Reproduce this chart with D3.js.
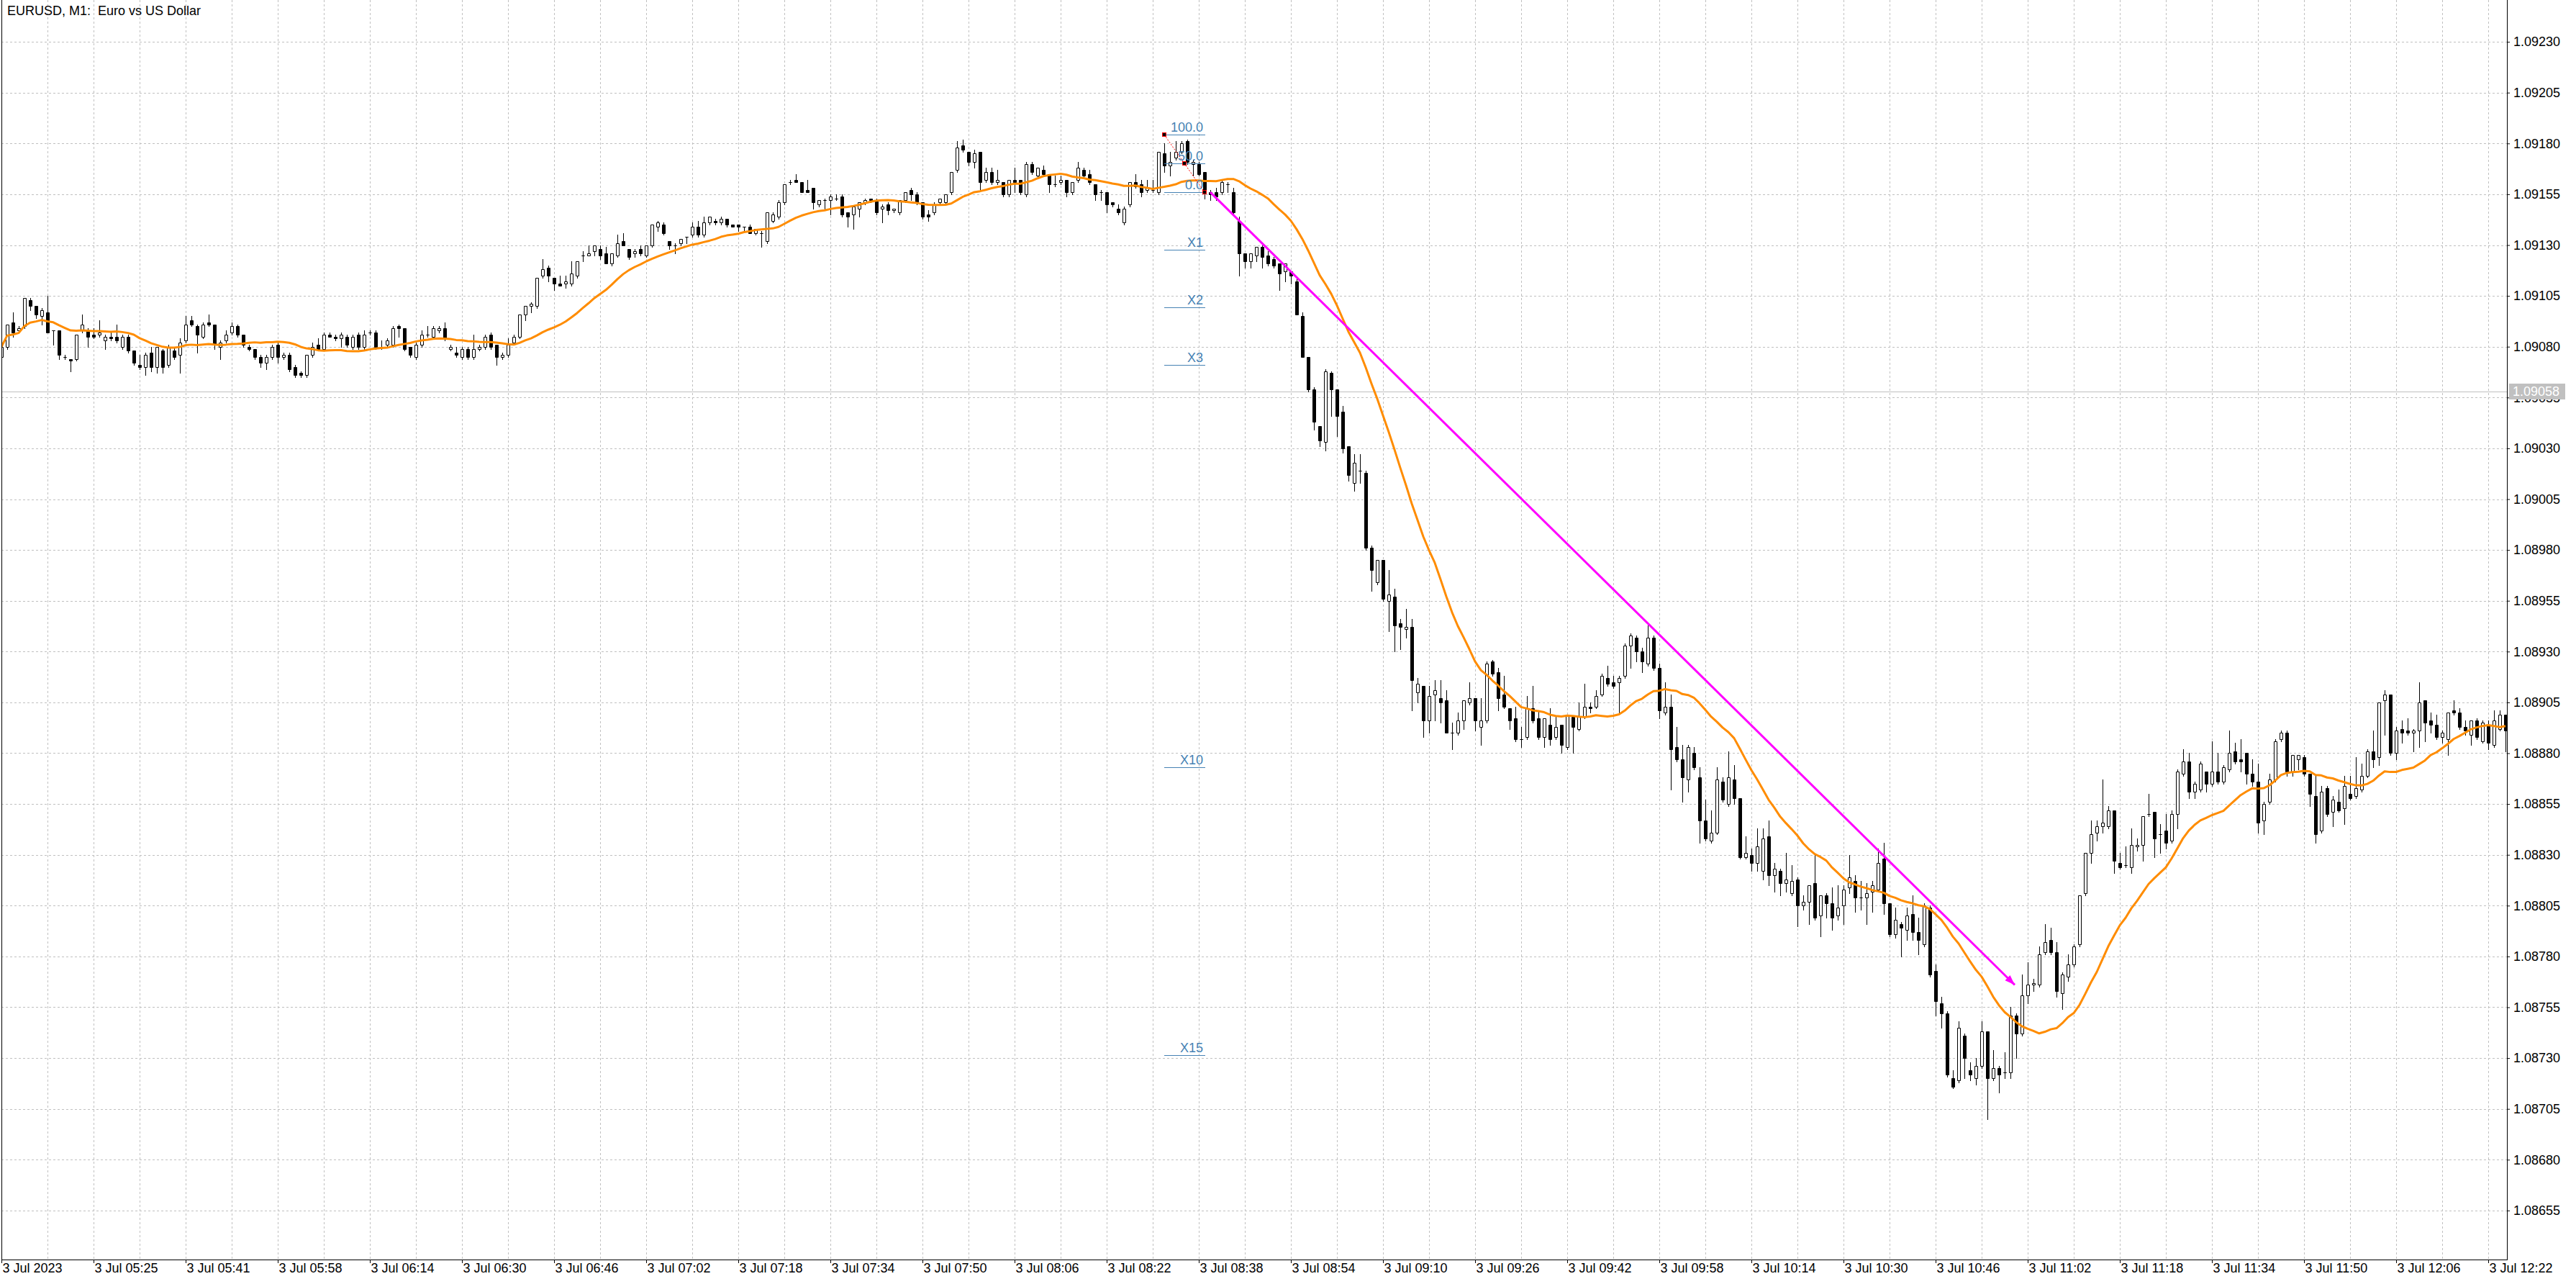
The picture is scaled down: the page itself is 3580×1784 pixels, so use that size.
<!DOCTYPE html>
<html><head><meta charset="utf-8">
<script src="https://cdn.jsdelivr.net/npm/d3@7"></script>
<style>html,body{margin:0;padding:0;background:#fff;overflow:hidden}</style>
</head><body>
<svg id="chart" width="3580" height="1784"></svg>
<script>
const chartTitle = "EURUSD, M1:  Euro vs US Dollar";
const timeLabels = ["3 Jul 2023","3 Jul 05:25","3 Jul 05:41","3 Jul 05:58","3 Jul 06:14","3 Jul 06:30","3 Jul 06:46","3 Jul 07:02","3 Jul 07:18","3 Jul 07:34","3 Jul 07:50","3 Jul 08:06","3 Jul 08:22","3 Jul 08:38","3 Jul 08:54","3 Jul 09:10","3 Jul 09:26","3 Jul 09:42","3 Jul 09:58","3 Jul 10:14","3 Jul 10:30","3 Jul 10:46","3 Jul 11:02","3 Jul 11:18","3 Jul 11:34","3 Jul 11:50","3 Jul 12:06","3 Jul 12:22"];
const priceTicks = [1.09230,1.09205,1.09180,1.09155,1.09130,1.09105,1.09080,1.09055,1.09030,1.09005,1.08980,1.08955,1.08930,1.08905,1.08880,1.08855,1.08830,1.08805,1.08780,1.08755,1.08730,1.08705,1.08680,1.08655];

const opens = [
1.09075,1.09080,1.09092,1.09088,1.09090,1.09103,1.09100,1.09095,1.09097,1.09088,
1.09088,1.09075,1.09074,1.09074,1.09088,1.09088,1.09086,1.09086,1.09083,1.09085,
1.09085,1.09080,1.09085,1.09078,1.09071,1.09070,1.09077,1.09070,1.09078,1.09071,
1.09078,1.09076,1.09083,1.09093,1.09090,1.09085,1.09092,1.09091,1.09080,1.09083,
1.09087,1.09090,1.09086,1.09080,1.09079,1.09075,1.09072,1.09075,1.09081,1.09075,
1.09076,1.09070,1.09067,1.09066,1.09076,1.09081,1.09079,1.09086,1.09085,1.09084,
1.09085,1.09080,1.09086,1.09080,1.09087,1.09087,1.09080,1.09081,1.09081,1.09090,
1.09089,1.09080,1.09075,1.09081,1.09086,1.09085,1.09088,1.09089,1.09079,1.09077,
1.09075,1.09079,1.09075,1.09079,1.09080,1.09086,1.09081,1.09075,1.09076,1.09082,
1.09085,1.09096,1.09100,1.09100,1.09115,1.09119,1.09114,1.09111,1.09111,1.09111,
1.09115,1.09125,1.09125,1.09127,1.09128,1.09126,1.09121,1.09125,1.09132,1.09128,
1.09126,1.09128,1.09125,1.09130,1.09139,1.09140,1.09132,1.09130,1.09131,1.09134,
1.09135,1.09139,1.09135,1.09141,1.09142,1.09141,1.09143,1.09140,1.09140,1.09139,
1.09139,1.09136,1.09136,1.09132,1.09142,1.09144,1.09151,1.09161,1.09162,1.09161,
1.09157,1.09158,1.09150,1.09152,1.09152,1.09153,1.09154,1.09146,1.09145,1.09148,
1.09151,1.09153,1.09152,1.09148,1.09150,1.09147,1.09146,1.09152,1.09157,1.09155,
1.09151,1.09145,1.09146,1.09151,1.09151,1.09156,1.09167,1.09179,1.09176,1.09171,
1.09176,1.09162,1.09166,1.09161,1.09161,1.09155,1.09162,1.09162,1.09155,1.09170,
1.09164,1.09167,1.09165,1.09160,1.09161,1.09162,1.09156,1.09162,1.09167,1.09165,
1.09160,1.09156,1.09156,1.09151,1.09148,1.09141,1.09150,1.09161,1.09160,1.09157,
1.09157,1.09156,1.09175,1.09169,1.09173,1.09176,1.09181,1.09170,1.09170,1.09166,
1.09156,1.09156,1.09156,1.09160,1.09156,1.09142,1.09126,1.09122,1.09125,1.09129,
1.09125,1.09123,1.09121,1.09117,1.09117,1.09112,1.09095,1.09075,1.09059,1.09041,
1.09033,1.09067,1.09059,1.09048,1.09031,1.09013,1.09019,1.09018,1.08981,1.08964,
1.08975,1.08955,1.08957,1.08944,1.08941,1.08942,1.08910,1.08913,1.08896,1.08909,
1.08907,1.08906,1.08890,1.08890,1.08896,1.08905,1.08907,1.08893,1.08896,1.08925,
1.08920,1.08909,1.08902,1.08897,1.08887,1.08888,1.08902,1.08897,1.08888,1.08894,
1.08888,1.08894,1.08883,1.08898,1.08892,1.08898,1.08903,1.08903,1.08909,1.08917,
1.08915,1.08915,1.08918,1.08933,1.08937,1.08930,1.08924,1.08937,1.08922,1.08900,
1.08903,1.08883,1.08877,1.08867,1.08880,1.08868,1.08847,1.08837,1.08841,1.08866,
1.08855,1.08867,1.08858,1.08829,1.08830,1.08826,1.08822,1.08839,1.08820,1.08822,
1.08816,1.08811,1.08818,1.08805,1.08807,1.08816,1.08800,1.08810,1.08806,1.08800,
1.08805,1.08814,1.08817,1.08809,1.08809,1.08812,1.08813,1.08828,1.08806,1.08791,
1.08796,1.08793,1.08801,1.08792,1.08786,1.08804,1.08773,1.08757,1.08752,1.08720,
1.08719,1.08741,1.08724,1.08720,1.08726,1.08743,1.08720,1.08725,1.08723,1.08723,
1.08751,1.08742,1.08761,1.08766,1.08766,1.08782,1.08788,1.08782,1.08762,1.08770,
1.08776,1.08786,1.08811,1.08831,1.08841,1.08844,1.08844,1.08852,1.08826,1.08825,
1.08824,1.08834,1.08835,1.08850,1.08851,1.08840,1.08842,1.08837,1.08850,1.08870,
1.08876,1.08861,1.08862,1.08871,1.08865,1.08871,1.08866,1.08872,1.08881,1.08877,
1.08880,1.08870,1.08866,1.08847,1.08856,1.08867,1.08887,1.08890,1.08871,1.08877,
1.08878,1.08870,1.08859,1.08842,1.08863,1.08851,1.08856,1.08853,1.08860,1.08859,
1.08862,1.08869,1.08881,1.08878,1.08906,1.08909,1.08880,1.08892,1.08891,1.08890,
1.08891,1.08906,1.08896,1.08894,1.08888,1.08887,1.08901,1.08900,1.08893,1.08889,
1.08896,1.08886,1.08894,1.08884,1.08892,1.08899];

const highs = [
1.09080,1.09091,1.09097,1.09090,1.09104,1.09104,1.09100,1.09099,1.09105,1.09088,
1.09088,1.09076,1.09074,1.09086,1.09096,1.09089,1.09089,1.09093,1.09086,1.09087,
1.09091,1.09086,1.09086,1.09078,1.09076,1.09077,1.09080,1.09080,1.09079,1.09081,
1.09080,1.09084,1.09095,1.09095,1.09091,1.09092,1.09096,1.09091,1.09083,1.09088,
1.09092,1.09091,1.09086,1.09081,1.09079,1.09076,1.09076,1.09081,1.09082,1.09077,
1.09077,1.09071,1.09068,1.09076,1.09082,1.09084,1.09087,1.09087,1.09086,1.09087,
1.09086,1.09086,1.09087,1.09088,1.09088,1.09088,1.09083,1.09084,1.09090,1.09091,
1.09089,1.09080,1.09082,1.09088,1.09090,1.09090,1.09090,1.09092,1.09081,1.09080,
1.09080,1.09080,1.09086,1.09081,1.09086,1.09087,1.09081,1.09077,1.09084,1.09086,
1.09096,1.09100,1.09102,1.09114,1.09123,1.09120,1.09114,1.09115,1.09115,1.09122,
1.09122,1.09127,1.09130,1.09130,1.09130,1.09129,1.09126,1.09135,1.09136,1.09128,
1.09128,1.09130,1.09130,1.09140,1.09142,1.09141,1.09132,1.09131,1.09133,1.09134,
1.09141,1.09142,1.09144,1.09144,1.09143,1.09144,1.09143,1.09140,1.09140,1.09139,
1.09140,1.09138,1.09137,1.09146,1.09146,1.09152,1.09160,1.09162,1.09165,1.09161,
1.09162,1.09158,1.09152,1.09153,1.09155,1.09155,1.09155,1.09146,1.09149,1.09151,
1.09153,1.09153,1.09153,1.09150,1.09151,1.09148,1.09152,1.09156,1.09158,1.09156,
1.09151,1.09147,1.09151,1.09153,1.09155,1.09166,1.09181,1.09182,1.09176,1.09177,
1.09176,1.09168,1.09168,1.09167,1.09161,1.09162,1.09168,1.09162,1.09171,1.09171,
1.09168,1.09169,1.09165,1.09164,1.09164,1.09162,1.09161,1.09171,1.09168,1.09167,
1.09160,1.09157,1.09156,1.09151,1.09150,1.09149,1.09161,1.09165,1.09162,1.09162,
1.09162,1.09176,1.09180,1.09176,1.09181,1.09181,1.09182,1.09172,1.09171,1.09166,
1.09157,1.09158,1.09162,1.09161,1.09158,1.09144,1.09126,1.09126,1.09129,1.09130,
1.09127,1.09124,1.09121,1.09121,1.09117,1.09114,1.09097,1.09075,1.09060,1.09041,
1.09069,1.09068,1.09059,1.09051,1.09031,1.09027,1.09027,1.09019,1.08982,1.08975,
1.08975,1.08970,1.08961,1.08946,1.08951,1.08946,1.08917,1.08913,1.08913,1.08916,
1.08916,1.08911,1.08895,1.08900,1.08906,1.08915,1.08907,1.08907,1.08925,1.08926,
1.08922,1.08918,1.08902,1.08903,1.08893,1.08908,1.08913,1.08901,1.08897,1.08902,
1.08898,1.08894,1.08899,1.08898,1.08905,1.08914,1.08905,1.08911,1.08919,1.08923,
1.08918,1.08918,1.08934,1.08939,1.08938,1.08932,1.08943,1.08938,1.08924,1.08915,
1.08909,1.08893,1.08884,1.08884,1.08883,1.08873,1.08857,1.08852,1.08873,1.08868,
1.08881,1.08874,1.08858,1.08839,1.08833,1.08843,1.08843,1.08847,1.08826,1.08823,
1.08831,1.08825,1.08819,1.08810,1.08815,1.08830,1.08810,1.08811,1.08814,1.08815,
1.08815,1.08830,1.08820,1.08817,1.08816,1.08817,1.08833,1.08836,1.08806,1.08804,
1.08797,1.08804,1.08810,1.08799,1.08806,1.08805,1.08776,1.08760,1.08753,1.08724,
1.08748,1.08742,1.08728,1.08730,1.08748,1.08743,1.08734,1.08726,1.08733,1.08755,
1.08752,1.08771,1.08777,1.08769,1.08785,1.08796,1.08794,1.08787,1.08772,1.08781,
1.08786,1.08810,1.08831,1.08847,1.08847,1.08867,1.08854,1.08852,1.08831,1.08834,
1.08843,1.08838,1.08849,1.08860,1.08851,1.08845,1.08850,1.08852,1.08872,1.08882,
1.08880,1.08866,1.08876,1.08871,1.08886,1.08880,1.08874,1.08891,1.08885,1.08887,
1.08880,1.08877,1.08875,1.08856,1.08870,1.08887,1.08891,1.08891,1.08879,1.08879,
1.08879,1.08870,1.08869,1.08864,1.08864,1.08859,1.08862,1.08869,1.08869,1.08878,
1.08875,1.08882,1.08891,1.08905,1.08911,1.08909,1.08893,1.08896,1.08897,1.08892,
1.08915,1.08906,1.08900,1.08899,1.08891,1.08900,1.08906,1.08902,1.08896,1.08896,
1.08897,1.08896,1.08896,1.08901,1.08901,1.08899];

const lows = [
1.09074,1.09079,1.09085,1.09088,1.09089,1.09098,1.09094,1.09091,1.09087,1.09081,
1.09074,1.09074,1.09068,1.09073,1.09087,1.09080,1.09084,1.09085,1.09079,1.09083,
1.09082,1.09079,1.09077,1.09071,1.09069,1.09066,1.09068,1.09067,1.09067,1.09070,
1.09074,1.09067,1.09082,1.09090,1.09077,1.09084,1.09090,1.09079,1.09074,1.09082,
1.09086,1.09085,1.09080,1.09078,1.09074,1.09070,1.09069,1.09074,1.09072,1.09074,
1.09068,1.09065,1.09065,1.09065,1.09075,1.09078,1.09078,1.09085,1.09083,1.09080,
1.09080,1.09079,1.09079,1.09079,1.09086,1.09079,1.09079,1.09080,1.09080,1.09085,
1.09078,1.09075,1.09074,1.09080,1.09085,1.09084,1.09087,1.09083,1.09078,1.09075,
1.09074,1.09074,1.09074,1.09078,1.09079,1.09079,1.09071,1.09074,1.09075,1.09081,
1.09084,1.09093,1.09097,1.09099,1.09114,1.09112,1.09108,1.09110,1.09109,1.09110,
1.09114,1.09122,1.09125,1.09125,1.09123,1.09121,1.09120,1.09124,1.09130,1.09123,
1.09124,1.09125,1.09124,1.09129,1.09137,1.09135,1.09128,1.09126,1.09130,1.09131,
1.09134,1.09134,1.09134,1.09140,1.09140,1.09140,1.09139,1.09139,1.09137,1.09137,
1.09136,1.09135,1.09129,1.09131,1.09141,1.09143,1.09150,1.09160,1.09161,1.09156,
1.09156,1.09148,1.09149,1.09148,1.09145,1.09152,1.09144,1.09139,1.09138,1.09144,
1.09150,1.09151,1.09145,1.09141,1.09145,1.09146,1.09145,1.09151,1.09152,1.09150,
1.09143,1.09142,1.09145,1.09150,1.09150,1.09155,1.09166,1.09176,1.09169,1.09168,
1.09157,1.09161,1.09160,1.09160,1.09154,1.09154,1.09156,1.09155,1.09154,1.09165,
1.09163,1.09164,1.09156,1.09159,1.09160,1.09154,1.09155,1.09161,1.09163,1.09160,
1.09152,1.09152,1.09146,1.09149,1.09145,1.09140,1.09149,1.09158,1.09154,1.09156,
1.09156,1.09155,1.09166,1.09164,1.09172,1.09175,1.09170,1.09164,1.09164,1.09153,
1.09152,1.09152,1.09155,1.09156,1.09145,1.09115,1.09119,1.09119,1.09122,1.09119,
1.09120,1.09119,1.09108,1.09112,1.09111,1.09096,1.09075,1.09058,1.09039,1.09031,
1.09029,1.09046,1.09036,1.09028,1.09014,1.09009,1.09013,1.08980,1.08960,1.08963,
1.08955,1.08940,1.08930,1.08931,1.08937,1.08901,1.08905,1.08888,1.08890,1.08896,
1.08895,1.08890,1.08882,1.08889,1.08892,1.08904,1.08891,1.08884,1.08895,1.08918,
1.08901,1.08902,1.08892,1.08886,1.08883,1.08887,1.08895,1.08887,1.08883,1.08884,
1.08887,1.08880,1.08882,1.08880,1.08891,1.08897,1.08900,1.08902,1.08908,1.08913,
1.08912,1.08900,1.08917,1.08922,1.08925,1.08920,1.08923,1.08921,1.08897,1.08899,
1.08862,1.08876,1.08856,1.08861,1.08872,1.08836,1.08837,1.08836,1.08840,1.08856,
1.08854,1.08855,1.08828,1.08828,1.08822,1.08822,1.08818,1.08815,1.08812,1.08810,
1.08812,1.08810,1.08795,1.08803,1.08796,1.08798,1.08790,1.08799,1.08793,1.08798,
1.08796,1.08811,1.08802,1.08803,1.08796,1.08802,1.08812,1.08801,1.08790,1.08789,
1.08780,1.08788,1.08788,1.08781,1.08785,1.08770,1.08751,1.08745,1.08721,1.08715,
1.08718,1.08720,1.08719,1.08717,1.08725,1.08700,1.08719,1.08713,1.08720,1.08720,
1.08730,1.08741,1.08757,1.08763,1.08765,1.08781,1.08781,1.08760,1.08754,1.08768,
1.08775,1.08785,1.08810,1.08826,1.08837,1.08841,1.08843,1.08821,1.08823,1.08824,
1.08821,1.08832,1.08827,1.08849,1.08829,1.08831,1.08833,1.08836,1.08843,1.08869,
1.08858,1.08858,1.08861,1.08861,1.08864,1.08865,1.08865,1.08871,1.08875,1.08871,
1.08865,1.08864,1.08841,1.08840,1.08855,1.08866,1.08886,1.08869,1.08869,1.08872,
1.08869,1.08854,1.08836,1.08841,1.08849,1.08844,1.08851,1.08845,1.08857,1.08858,
1.08861,1.08868,1.08873,1.08874,1.08889,1.08879,1.08877,1.08885,1.08889,1.08881,
1.08883,1.08886,1.08890,1.08887,1.08885,1.08879,1.08899,1.08892,1.08889,1.08884,
1.08887,1.08885,1.08882,1.08883,1.08891,1.08881];

const closes = [
1.09080,1.09091,1.09087,1.09089,1.09104,1.09100,1.09096,1.09098,1.09087,1.09088,
1.09076,1.09075,1.09073,1.09086,1.09091,1.09085,1.09085,1.09087,1.09085,1.09084,
1.09083,1.09085,1.09078,1.09072,1.09070,1.09076,1.09070,1.09080,1.09070,1.09080,
1.09075,1.09082,1.09091,1.09091,1.09086,1.09091,1.09091,1.09081,1.09082,1.09086,
1.09090,1.09086,1.09081,1.09079,1.09075,1.09072,1.09075,1.09080,1.09075,1.09076,
1.09069,1.09066,1.09066,1.09076,1.09080,1.09079,1.09086,1.09085,1.09084,1.09086,
1.09081,1.09085,1.09080,1.09086,1.09087,1.09080,1.09080,1.09083,1.09089,1.09089,
1.09079,1.09076,1.09081,1.09086,1.09086,1.09089,1.09089,1.09084,1.09080,1.09076,
1.09079,1.09075,1.09079,1.09080,1.09085,1.09080,1.09075,1.09076,1.09081,1.09085,
1.09096,1.09100,1.09101,1.09114,1.09118,1.09115,1.09111,1.09110,1.09112,1.09116,
1.09122,1.09125,1.09126,1.09130,1.09125,1.09121,1.09126,1.09131,1.09130,1.09124,
1.09127,1.09126,1.09130,1.09140,1.09141,1.09136,1.09130,1.09130,1.09133,1.09134,
1.09139,1.09135,1.09141,1.09144,1.09141,1.09143,1.09140,1.09139,1.09139,1.09139,
1.09136,1.09138,1.09136,1.09146,1.09145,1.09151,1.09160,1.09161,1.09161,1.09156,
1.09156,1.09151,1.09152,1.09152,1.09154,1.09153,1.09145,1.09144,1.09149,1.09151,
1.09152,1.09152,1.09146,1.09149,1.09147,1.09148,1.09152,1.09156,1.09155,1.09151,
1.09144,1.09144,1.09150,1.09153,1.09155,1.09166,1.09178,1.09177,1.09171,1.09175,
1.09161,1.09166,1.09161,1.09162,1.09155,1.09162,1.09161,1.09156,1.09170,1.09166,
1.09168,1.09165,1.09160,1.09160,1.09162,1.09156,1.09161,1.09168,1.09164,1.09161,
1.09155,1.09156,1.09150,1.09150,1.09146,1.09148,1.09161,1.09159,1.09156,1.09158,
1.09157,1.09176,1.09169,1.09171,1.09176,1.09180,1.09171,1.09171,1.09165,1.09156,
1.09155,1.09154,1.09161,1.09160,1.09146,1.09126,1.09122,1.09126,1.09129,1.09124,
1.09121,1.09120,1.09116,1.09121,1.09115,1.09096,1.09075,1.09059,1.09043,1.09034,
1.09068,1.09059,1.09046,1.09030,1.09017,1.09023,1.09019,1.08981,1.08970,1.08975,
1.08956,1.08958,1.08943,1.08942,1.08942,1.08916,1.08914,1.08896,1.08908,1.08911,
1.08905,1.08890,1.08890,1.08896,1.08906,1.08907,1.08896,1.08896,1.08924,1.08919,
1.08907,1.08903,1.08896,1.08887,1.08887,1.08902,1.08896,1.08888,1.08897,1.08887,
1.08893,1.08884,1.08899,1.08893,1.08898,1.08903,1.08902,1.08908,1.08918,1.08914,
1.08913,1.08917,1.08933,1.08938,1.08930,1.08925,1.08937,1.08922,1.08901,1.08903,
1.08882,1.08877,1.08868,1.08883,1.08873,1.08847,1.08838,1.08841,1.08867,1.08857,
1.08868,1.08858,1.08829,1.08831,1.08826,1.08834,1.08838,1.08820,1.08823,1.08816,
1.08818,1.08817,1.08805,1.08807,1.08815,1.08799,1.08810,1.08806,1.08799,1.08804,
1.08813,1.08819,1.08809,1.08809,1.08811,1.08815,1.08826,1.08806,1.08791,1.08798,
1.08794,1.08800,1.08792,1.08788,1.08805,1.08771,1.08758,1.08752,1.08722,1.08716,
1.08745,1.08730,1.08722,1.08726,1.08743,1.08720,1.08725,1.08722,1.08723,1.08751,
1.08742,1.08761,1.08766,1.08767,1.08781,1.08787,1.08782,1.08763,1.08771,1.08776,
1.08785,1.08810,1.08831,1.08840,1.08844,1.08846,1.08852,1.08827,1.08824,1.08825,
1.08835,1.08835,1.08849,1.08850,1.08838,1.08840,1.08836,1.08850,1.08871,1.08876,
1.08861,1.08865,1.08875,1.08865,1.08871,1.08866,1.08873,1.08880,1.08876,1.08876,
1.08870,1.08866,1.08846,1.08855,1.08867,1.08886,1.08890,1.08871,1.08879,1.08879,
1.08870,1.08860,1.08840,1.08861,1.08850,1.08857,1.08852,1.08864,1.08858,1.08863,
1.08869,1.08881,1.08877,1.08905,1.08909,1.08880,1.08891,1.08890,1.08890,1.08891,
1.08905,1.08895,1.08894,1.08888,1.08890,1.08900,1.08900,1.08893,1.08891,1.08896,
1.08888,1.08895,1.08885,1.08896,1.08899,1.08891];

const maPeriod = 20;
const markedPrice = 1.09058;
const trendStart = {bar: 210, price: 1.09156};
const trendEnd = {bar: 349.75, price: 1.08766};
const fibStart = {bar: 202, price: 1.091843};
const fibEnd = {bar: 209, price: 1.091560};
const fibRatios = [1, 0.5, 0, -1, -2, -3, -10, -15];
const fibLabels = ["100.0", "50.0", "0.0", "X1", "X2", "X3", "X10", "X15"];

const FONT = "'Liberation Sans', Arial, sans-serif";
const W = 3580, H = 1784;
const plotL = 2, plotR = 3484, plotB = 1750;
const nBars = closes.length;

const svg = d3.select('#chart');
svg.append('rect').attr('width', W).attr('height', H).attr('fill', '#fff');

const x = d3.scaleLinear().domain([0, 435]).range([2, 3482]);
const y = d3.scaleLinear().domain([1.08655, 1.09230]).range([1681.9, 58.1]);

svg.append('defs').append('clipPath').attr('id', 'plot')
  .append('rect').attr('x', plotL + 1).attr('y', 0).attr('width', plotR - plotL - 1).attr('height', plotB);

const plot = svg.append('g').attr('clip-path', 'url(#plot)');

// grid
const gridColor = '#c0c0c0';
plot.append('g').selectAll('line').data(priceTicks).join('line')
  .attr('x1', plotL).attr('x2', plotR)
  .attr('y1', d => Math.round(y(d)) + 0.5).attr('y2', d => Math.round(y(d)) + 0.5)
  .attr('stroke', gridColor).attr('stroke-width', 1).attr('stroke-dasharray', '3,3');
const vGrid = d3.range(8, nBars, 8);
plot.append('g').selectAll('line').data(vGrid).join('line')
  .attr('x1', d => Math.round(x(d)) + 0.5).attr('x2', d => Math.round(x(d)) + 0.5)
  .attr('y1', 0).attr('y2', plotB)
  .attr('stroke', gridColor).attr('stroke-width', 1).attr('stroke-dasharray', '3,3');

// marked price line
plot.append('line')
  .attr('x1', plotL).attr('x2', plotR)
  .attr('y1', Math.round(y(markedPrice)) + 0.5).attr('y2', Math.round(y(markedPrice)) + 0.5)
  .attr('stroke', '#c0c0c0').attr('stroke-width', 1);

// candles
const bars = opens.map((o, i) => ({i, o, h: highs[i], l: lows[i], c: closes[i]}));
const cx = i => Math.round(x(i));
const cg = plot.append('g');
cg.selectAll('line').data(bars).join('line')
  .attr('x1', d => cx(d.i) + 0.5).attr('x2', d => cx(d.i) + 0.5)
  .attr('y1', d => Math.round(y(d.h))).attr('y2', d => Math.round(y(d.l)) + 1)
  .attr('stroke', '#000').attr('stroke-width', 1);
cg.selectAll('path').data(bars).join('path')
  .attr('d', d => {
    const t = Math.round(y(Math.max(d.o, d.c))) + 0.5;
    const b = Math.round(y(Math.min(d.o, d.c))) + 0.5;
    const l = cx(d.i) - 1.5;
    return `M${l},${t}H${l + 4}V${b}H${l}Z`;
  })
  .attr('fill', d => d.c >= d.o ? '#fff' : '#000')
  .attr('stroke', '#000').attr('stroke-width', 1);

// moving average
const ma = closes.map((c, i) => d3.mean(closes.slice(Math.max(0, i - maPeriod + 1), i + 1)));
plot.append('path').datum(ma)
  .attr('d', d3.line().x((d, i) => x(i)).y(d => y(d)))
  .attr('fill', 'none').attr('stroke', '#ff8c00').attr('stroke-width', 3)
  .attr('stroke-linejoin', 'round');

// fibonacci expansion levels
const fibRange = fibStart.price - fibEnd.price;
const fx1 = x(fibStart.bar), fx2 = x(fibEnd.bar);
const fg = plot.append('g');
fibRatios.forEach((r, k) => {
  const p = fibEnd.price + r * fibRange;
  const yy = Math.round(y(p)) + 0.5;
  fg.append('line').attr('x1', fx1).attr('x2', fx2 + 1).attr('y1', yy).attr('y2', yy)
    .attr('stroke', '#4682b4').attr('stroke-width', 1);
  fg.append('text').attr('x', fx2 - 2).attr('y', yy - 5).attr('text-anchor', 'end')
    .attr('font-family', FONT).attr('font-size', 18).attr('fill', '#4682b4').text(fibLabels[k]);
});
fg.append('line').attr('x1', fx1).attr('y1', y(fibStart.price)).attr('x2', fx2).attr('y2', y(fibEnd.price))
  .attr('stroke', '#ff0000').attr('stroke-width', 1).attr('stroke-dasharray', '2,2');
[[fibStart.bar, fibStart.price], [(fibStart.bar + fibEnd.bar) / 2, (fibStart.price + fibEnd.price) / 2], [fibEnd.bar, fibEnd.price]]
  .forEach(([b, p]) => {
    fg.append('rect').attr('x', Math.round(x(b)) - 2.5).attr('y', Math.round(y(p)) - 2.5)
      .attr('width', 5).attr('height', 5).attr('fill', '#000').attr('stroke', '#ff0000').attr('stroke-width', 1);
  });

// trend line with arrow
const tx1 = x(trendStart.bar), ty1 = y(trendStart.price), tx2 = x(trendEnd.bar), ty2 = y(trendEnd.price);
plot.append('line').attr('x1', tx1).attr('y1', ty1).attr('x2', tx2).attr('y2', ty2)
  .attr('stroke', '#ff00ff').attr('stroke-width', 3);
{
  const ang = Math.atan2(ty2 - ty1, tx2 - tx1);
  const len = 14, hw = 5;
  const bx = tx2 - len * Math.cos(ang), by = ty2 - len * Math.sin(ang);
  const px = -Math.sin(ang) * hw, py = Math.cos(ang) * hw;
  plot.append('path').attr('d', `M${tx2},${ty2}L${bx + px},${by + py}L${bx - px},${by - py}Z`)
    .attr('fill', '#ff00ff');
}

// frame
svg.append('line').attr('x1', plotL + 0.5).attr('x2', plotL + 0.5).attr('y1', 0).attr('y2', plotB + 1)
  .attr('stroke', '#000').attr('stroke-width', 1);

// price axis
const yAxis = d3.axisRight(y).tickValues(priceTicks).tickFormat(d3.format('.5f')).tickSize(4).tickPadding(5);
svg.append('g').attr('transform', `translate(${plotR},0)`).call(yAxis)
  .attr('font-family', FONT).attr('font-size', 18)
  .call(g => g.select('.domain').attr('d', `M0.5,0V${plotB + 0.5}`).attr('stroke', '#000'))
  .call(g => g.selectAll('.tick line').attr('stroke', '#000'))
  .call(g => g.selectAll('.tick text').attr('fill', '#000'));

// time axis
const xAxis = d3.axisBottom(x).tickValues(timeLabels.map((_, k) => 16 * k))
  .tickFormat((d, k) => timeLabels[k]).tickSize(5).tickPadding(0);
svg.append('g').attr('transform', `translate(0,${plotB})`).call(xAxis)
  .attr('font-family', FONT).attr('font-size', 18)
  .call(g => g.select('.domain').attr('d', `M${plotL},0.5H${plotR + 1}`).attr('stroke', '#000'))
  .call(g => g.selectAll('.tick line').attr('stroke', '#000'))
  .call(g => g.selectAll('.tick text').attr('fill', '#000').attr('text-anchor', 'start').attr('x', 1));

// marked price label
const my = Math.round(y(markedPrice));
svg.append('rect').attr('x', plotR + 3).attr('y', my - 11).attr('width', 78).attr('height', 22).attr('fill', '#c0c0c0');
svg.append('text').attr('x', plotR + 8).attr('y', my).attr('dy', '0.35em')
  .attr('font-family', FONT).attr('font-size', 18).attr('fill', '#fff').text(d3.format('.5f')(markedPrice));

// title
svg.append('text').attr('x', 10).attr('y', 21).attr('font-family', FONT).attr('font-size', 18)
  .attr('fill', '#000').attr('xml:space', 'preserve').style('white-space', 'pre').text(chartTitle);
</script>
</body></html>
